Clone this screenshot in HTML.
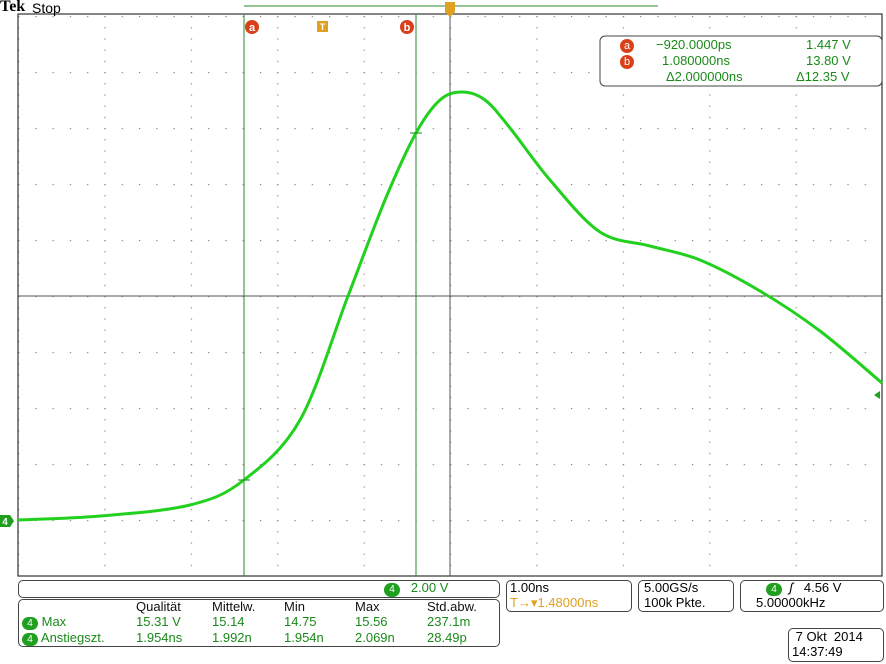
<!DOCTYPE html>
<html><head><style>
body{margin:0;width:886px;height:664px;background:#fff;overflow:hidden;font-family:"Liberation Sans",sans-serif;}
.t{position:absolute;white-space:nowrap;}
</style></head><body>
<svg width="886" height="664" style="position:absolute;left:0;top:0" font-family="Liberation Sans, sans-serif">
<defs>
<pattern id="dv" width="86.4" height="11.2" patternUnits="userSpaceOnUse" x="18" y="16"><rect x="0" y="0" width="1.2" height="1.2" fill="#888"/></pattern>
<pattern id="dh" width="17.28" height="56" patternUnits="userSpaceOnUse" x="18" y="16"><rect x="0" y="0" width="1.2" height="1.2" fill="#888"/></pattern>
</defs>
<rect x="18" y="14" width="864" height="562" fill="url(#dv)"/>
<rect x="18" y="14" width="864" height="562" fill="url(#dh)"/>
<rect x="18" y="14" width="864" height="562" fill="none" stroke="#333" stroke-width="1.2"/>
<line x1="18" y1="296" x2="882" y2="296" stroke="#555" stroke-width="1"/>
<line x1="450" y1="14" x2="450" y2="576" stroke="#555" stroke-width="1"/>
<line x1="244" y1="6" x2="658" y2="6" stroke="#2a8a2a" stroke-width="1"/>
<line x1="244" y1="14" x2="244" y2="576" stroke="#2a8a2a" stroke-width="1"/>
<line x1="416" y1="14" x2="416" y2="576" stroke="#2a8a2a" stroke-width="1"/>
<circle cx="252" cy="27" r="7" fill="#d9401a"/><text x="252" y="31" font-size="11" fill="#fff" text-anchor="middle" font-weight="bold">a</text>
<circle cx="407" cy="27" r="7" fill="#d9401a"/><text x="407" y="31" font-size="11" fill="#fff" text-anchor="middle" font-weight="bold">b</text>
<rect x="317" y="21" width="11" height="11" fill="#e0a020"/><text x="322.5" y="30" font-size="9" fill="#fff" text-anchor="middle" font-weight="bold">T</text>
<path d="M445 2 h10 v10 l-5 5 l-5 -5z" fill="#e0a020"/>
<path id="wave" d="" fill="none" stroke="#22d01e" stroke-width="3"/>
<line x1="238" y1="480" x2="250" y2="480" stroke="#1a8a1a"/>
<line x1="410" y1="133" x2="422" y2="133" stroke="#1a8a1a"/>
<path d="M0 515 h10 l4 6 l-4 6 h-10z" fill="#1fa01f"/><text x="5" y="525" font-size="10" fill="#fff" text-anchor="middle" font-weight="bold">4</text>
<path d="M874 395 l6 -4 v8z" fill="#1fa01f"/>
<rect x="600" y="36" width="282" height="50" rx="5" fill="#fff" stroke="#444"/>
</svg>
<script>
var p=[[18,520],[100,516],[190,505],[244,480],[300,420],[348,296],[385,200],[416,133],[440,100],[462,92],[485,100],[510,128],[550,180],[600,232],[650,246],[700,260],[760,291],[820,331],[882,383]];
var d="M"+p[0][0]+" "+p[0][1];
for(var i=0;i<p.length-1;i++){var a=p[i-1]||p[i],b=p[i],c=p[i+1],e=p[i+2]||c;
d+=" C"+(b[0]+(c[0]-a[0])/6)+" "+(b[1]+(c[1]-a[1])/6)+" "+(c[0]-(e[0]-b[0])/6)+" "+(c[1]-(e[1]-b[1])/6)+" "+c[0]+" "+c[1];}
document.getElementById("wave").setAttribute("d",d);
</script>
<div class="t" style="left:0;top:-2px;font-size:16px;font-weight:bold;font-family:'Liberation Serif',serif;">Tek</div>
<div class="t" style="left:32px;top:0;font-size:14px;">Stop</div>
<div class="t" style="left:620px;top:37px;font-size:13px;color:#1a8a1a;line-height:16px;">
<span style="display:inline-block;width:14px;height:14px;border-radius:7px;background:#d9401a;color:#fff;text-align:center;font-size:11px;line-height:14px">a</span><span style="position:absolute;left:36px">−920.0000ps</span><span style="position:absolute;left:186px">1.447 V</span><br>
<span style="display:inline-block;width:14px;height:14px;border-radius:7px;background:#d9401a;color:#fff;text-align:center;font-size:11px;line-height:14px">b</span><span style="position:absolute;left:42px;top:16px">1.080000ns</span><span style="position:absolute;left:186px;top:16px">13.80 V</span><br>
<span style="position:absolute;left:46px;top:32px">Δ2.000000ns</span><span style="position:absolute;left:176px;top:32px">Δ12.35 V</span></div>
<div style="position:absolute;left:18px;top:580px;width:480px;height:16px;border:1px solid #444;border-radius:5px"></div>
<div class="t" style="left:384px;top:580px;font-size:13px;color:#1a8a1a"><span style="display:inline-block;width:16px;height:14px;border-radius:7px;background:#1fa01f;color:#fff;text-align:center;font-size:10px;line-height:14px">4</span>&nbsp;&nbsp;&nbsp;2.00 V</div>
<div style="position:absolute;left:18px;top:599px;width:480px;height:46px;border:1px solid #444;border-radius:5px"></div>
<div class="t" style="left:22px;top:599px;font-size:13px;line-height:15px;color:#1a8a1a">
<div style="color:#111"><span style="position:absolute;left:114px">Qualität</span><span style="position:absolute;left:190px">Mittelw.</span><span style="position:absolute;left:262px">Min</span><span style="position:absolute;left:333px">Max</span><span style="position:absolute;left:405px">Std.abw.</span>&nbsp;</div>
<div><span style="display:inline-block;width:16px;height:13px;border-radius:7px;background:#1fa01f;color:#fff;text-align:center;font-size:10px;line-height:13px">4</span> Max<span style="position:absolute;left:114px">15.31 V</span><span style="position:absolute;left:190px">15.14</span><span style="position:absolute;left:262px">14.75</span><span style="position:absolute;left:333px">15.56</span><span style="position:absolute;left:405px">237.1m</span></div>
<div><span style="display:inline-block;width:16px;height:13px;border-radius:7px;background:#1fa01f;color:#fff;text-align:center;font-size:10px;line-height:13px">4</span> Anstiegszt.<span style="position:absolute;left:114px">1.954ns</span><span style="position:absolute;left:190px">1.992n</span><span style="position:absolute;left:262px">1.954n</span><span style="position:absolute;left:333px">2.069n</span><span style="position:absolute;left:405px">28.49p</span></div></div>
<div style="position:absolute;left:506px;top:580px;width:124px;height:30px;border:1px solid #444;border-radius:5px"></div>
<div class="t" style="left:510px;top:580px;font-size:13px;line-height:15px">1.00ns<br><span style="color:#e0a020">T→▾1.48000ns</span></div>
<div style="position:absolute;left:638px;top:580px;width:94px;height:30px;border:1px solid #444;border-radius:5px"></div>
<div class="t" style="left:644px;top:580px;font-size:13px;line-height:15px">5.00GS/s<br>100k Pkte.</div>
<div style="position:absolute;left:740px;top:580px;width:142px;height:30px;border:1px solid #444;border-radius:5px"></div>
<div class="t" style="left:766px;top:580px;font-size:13px;line-height:15px"><span style="display:inline-block;width:16px;height:13px;border-radius:7px;background:#1fa01f;color:#fff;text-align:center;font-size:10px;line-height:13px">4</span>&nbsp;&nbsp;<i>ʃ</i>&nbsp;&nbsp;&nbsp;4.56 V</div>
<div class="t" style="left:756px;top:595px;font-size:13px">5.00000kHz</div>
<div style="position:absolute;left:788px;top:628px;width:94px;height:32px;border:1px solid #444;border-radius:5px"></div>
<div class="t" style="left:792px;top:629px;font-size:13px;line-height:15px">&nbsp;7 Okt&nbsp; 2014<br>14:37:49</div>
</body></html>
